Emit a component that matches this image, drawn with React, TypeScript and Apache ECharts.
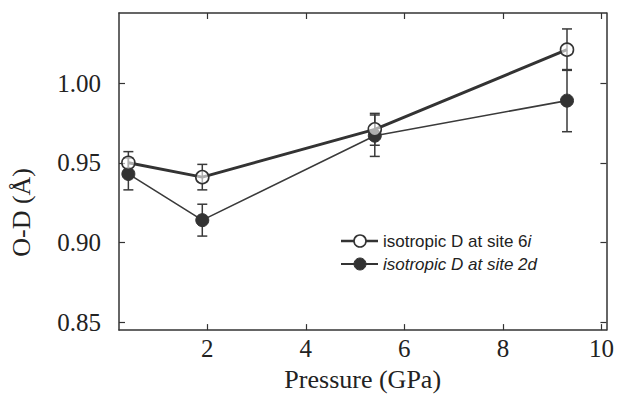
import React, { useEffect, useRef } from "react";
import * as echarts from "echarts";

const pressure = [0.4, 1.9, 5.4, 9.3];
const od6i = [0.95, 0.941, 0.971, 1.021];
const od6iErr = [0.007, 0.008, 0.01, 0.013];
const od2d = [0.943, 0.914, 0.967, 0.989];
const od2dErr = [0.01, 0.01, 0.013, 0.0195];
const xTicks = [2, 4, 6, 8, 10];
const yTicks = [0.85, 0.9, 0.95, 1.0];
const legendLabels = ["isotropic D at site 6", "isotropic D at site 2d"];

const errData = (vals: number[], errs: number[]) =>
  pressure.map((p, i) => [p, vals[i] - errs[i], vals[i] + errs[i]]);

const errRender = (params: any, api: any) => {
  const x = api.value(0);
  const lo = api.coord([x, api.value(1)]);
  const hi = api.coord([x, api.value(2)]);
  const cw = 5;
  const style = { stroke: "#3a3a3a", lineWidth: 1.5 };
  return {
    type: "group",
    children: [
      { type: "line", shape: { x1: lo[0], y1: lo[1], x2: hi[0], y2: hi[1] }, style },
      { type: "line", shape: { x1: lo[0] - cw, y1: lo[1], x2: lo[0] + cw, y2: lo[1] }, style },
      { type: "line", shape: { x1: hi[0] - cw, y1: hi[1], x2: hi[0] + cw, y2: hi[1] }, style },
    ],
  };
};

export default function App() {
  const ref = useRef<HTMLDivElement>(null);
  useEffect(() => {
    if (!ref.current) return;
    const chart = echarts.init(ref.current, null, { renderer: "svg" });
    const serif = "Liberation Serif";
    const axisLine = { show: true, lineStyle: { color: "#333", width: 1.5 } };
    chart.setOption({
      animation: false,
      backgroundColor: "#fff",
      grid: { left: 119, right: 6, top: 13, bottom: 52 },
      xAxis: [
        {
          type: "value",
          min: 0.21,
          max: 10.1,
          position: "bottom",
          axisLine,
          splitLine: { show: false },
          axisTick: { inside: true, length: 6, customValues: xTicks, lineStyle: { color: "#333", width: 1.2 } },
          axisLabel: {
            customValues: xTicks,
            color: "#222",
            fontFamily: serif,
            fontSize: 25,
            margin: 6,
            formatter: (v: number) => String(Math.round(v)),
          },
          name: "Pressure (GPa)",
          nameLocation: "middle",
          nameGap: 30,
          nameTextStyle: { fontFamily: serif, fontSize: 26, color: "#222" },
        },
        {
          type: "value",
          min: 0.21,
          max: 10.1,
          position: "top",
          axisLine,
          splitLine: { show: false },
          axisTick: { inside: true, length: 6, customValues: xTicks, lineStyle: { color: "#333", width: 1.2 } },
          axisLabel: { show: false },
        },
      ],
      yAxis: [
        {
          type: "value",
          min: 0.845,
          max: 1.044,
          position: "left",
          axisLine,
          splitLine: { show: false },
          axisTick: { inside: true, length: 6, customValues: yTicks, lineStyle: { color: "#333", width: 1.2 } },
          axisLabel: {
            customValues: yTicks,
            color: "#222",
            fontFamily: serif,
            fontSize: 25,
            margin: 18,
            formatter: (v: number) => v.toFixed(2),
          },
        },
        {
          type: "value",
          min: 0.845,
          max: 1.044,
          position: "right",
          axisLine,
          splitLine: { show: false },
          axisTick: { inside: true, length: 6, customValues: yTicks, lineStyle: { color: "#333", width: 1.2 } },
          axisLabel: { show: false },
        },
      ],
      series: [
        {
          type: "custom",
          name: "err6i",
          renderItem: errRender,
          data: errData(od6i, od6iErr),
          z: 1,
        },
        {
          type: "custom",
          name: "err2d",
          renderItem: errRender,
          data: errData(od2d, od2dErr),
          z: 1,
        },
        {
          type: "line",
          name: legendLabels[1],
          data: pressure.map((p, i) => [p, od2d[i]]),
          lineStyle: { color: "#3a3a3a", width: 1.6 },
          symbol: "circle",
          symbolSize: 13,
          itemStyle: { color: "#333", borderColor: "#333", borderWidth: 1 },
          z: 3,
        },
        {
          type: "line",
          name: legendLabels[0] + "i",
          data: pressure.map((p, i) => [p, od6i[i]]),
          lineStyle: { color: "#333", width: 3 },
          symbol: "circle",
          symbolSize: 13,
          itemStyle: { color: "rgba(255,255,255,0.6)", borderColor: "#333", borderWidth: 1.6 },
          z: 4,
        },
      ],
      graphic: [
        {
          type: "text",
          left: 8,
          top: 168,
          rotation: Math.PI / 2,
          style: { text: "O-D (Å)", fontFamily: serif, fontSize: 26, fill: "#222" },
        },
        { type: "line", shape: { x1: 341, y1: 241, x2: 378, y2: 241 }, style: { stroke: "#333", lineWidth: 2.5 } },
        { type: "circle", shape: { cx: 360, cy: 241, r: 6 }, style: { fill: "#fff", stroke: "#333", lineWidth: 1.6 } },
        { type: "line", shape: { x1: 341, y1: 264, x2: 378, y2: 264 }, style: { stroke: "#333", lineWidth: 2 } },
        { type: "circle", shape: { cx: 360, cy: 264, r: 6 }, style: { fill: "#333", stroke: "#333", lineWidth: 1 } },
        {
          type: "text",
          x: 383,
          y: 241,
          style: {
            text: "{n|" + legendLabels[0] + "}{it|i}",
            verticalAlign: "middle",
            fill: "#222",
            rich: {
              n: { fontFamily: "Liberation Sans", fontSize: 17, fill: "#222" },
              it: { fontFamily: "Liberation Sans", fontSize: 17, fontStyle: "italic", fill: "#222" },
            },
          },
        },
        {
          type: "text",
          x: 383,
          y: 264,
          style: {
            text: legendLabels[1],
            verticalAlign: "middle",
            fontFamily: "Liberation Sans",
            fontSize: 17,
            fontStyle: "italic",
            fill: "#222",
          },
        },
      ],
    });
    return () => chart.dispose();
  }, []);
  return (
    <div
      ref={ref}
      style={{ position: "fixed", left: 0, top: 0, width: 617, height: 397, background: "#fff" }}
    />
  );
}
